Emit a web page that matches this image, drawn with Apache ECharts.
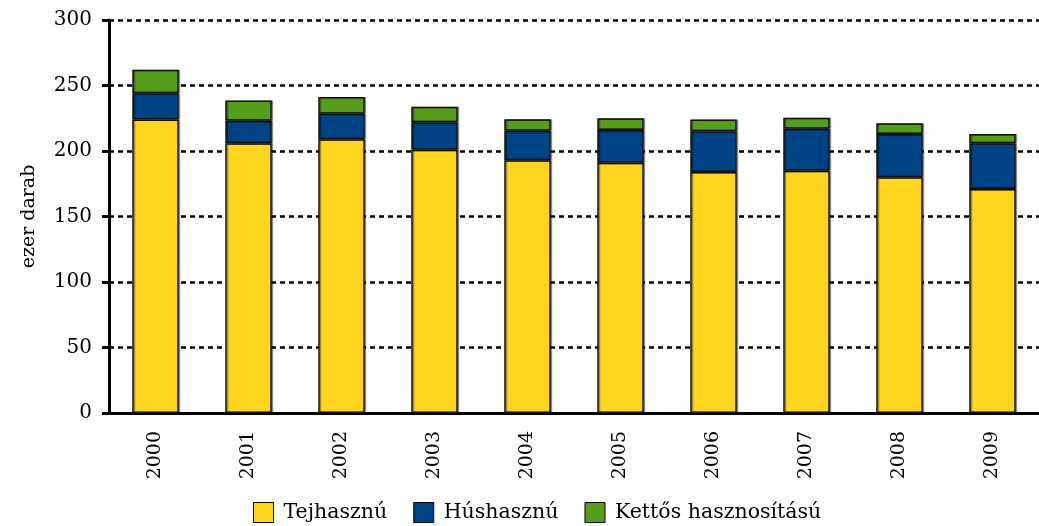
<!DOCTYPE html>
<html>
<head>
<meta charset="utf-8">
<script src="https://cdn.jsdelivr.net/npm/echarts@6/dist/echarts.min.js"></script>
<style>
  html, body { margin: 0; padding: 0; background: #fff; }
  #chart { width: 1039px; height: 526px; }
</style>
</head>
<body>
<div id="chart"></div>
<script>
const years = ["2000", "2001", "2002", "2003", "2004", "2005", "2006", "2007", "2008", "2009"];
// ezer darab, values
const tejhasznu = [224, 206, 209, 201, 193, 191, 184, 185, 180, 171];
const hushasznu = [20, 17, 19.5, 21, 22.5, 25, 31, 32, 33, 35];
const kettos = [18, 15.5, 12.7, 11.7, 8.7, 9, 9, 8.4, 8.2, 7];
const yTicks = [0, 50, 100, 150, 200, 250, 300];

const font = "'DejaVu Serif', 'Liberation Serif', serif";

const chart = echarts.init(document.getElementById("chart"));

const barSeries = (name, data, color) => ({
  name: name,
  type: "bar",
  stack: "total",
  data: data,
  barWidth: "50%",
  itemStyle: {
    color: color,
    borderColor: "#111",
    borderWidth: 1.5,
    shadowColor: "rgba(0,0,0,0.35)",
    shadowOffsetX: 1.5,
    shadowOffsetY: 0
  }
});

chart.setOption({
  animation: false,
  textStyle: { fontFamily: font },
  grid: { left: 109, right: 0, top: 20, bottom: 113 },
  legend: {
    top: 497,
    left: 248,
    icon: "rect",
    itemWidth: 20,
    itemHeight: 20,
    itemGap: 26,
    textStyle: {
      fontFamily: font,
      fontSize: 20.5,
      color: "#000",
      padding: [0, 0, 0, 5]
    },
    itemStyle: { borderColor: "#000", borderWidth: 1 },
    data: ["Tejhasznú", "Húshasznú", "Kettős hasznosítású"]
  },
  xAxis: {
    type: "category",
    data: years,
    axisLine: { lineStyle: { color: "#000", width: 3 } },
    axisTick: { length: 10, lineStyle: { color: "#000", width: 3 } },
    axisLabel: {
      rotate: 90,
      margin: 18,
      fontFamily: font,
      fontSize: 19,
      color: "#000"
    }
  },
  yAxis: {
    type: "value",
    min: 0,
    max: 300,
    interval: 50,
    name: "ezer darab",
    nameLocation: "middle",
    nameGap: 70,
    nameRotate: 90,
    nameTextStyle: { fontFamily: font, fontSize: 19, color: "#000" },
    axisLine: { show: true, lineStyle: { color: "#000", width: 3 } },
    axisTick: { show: true, length: 7, lineStyle: { color: "#000", width: 3 } },
    axisLabel: {
      margin: 17,
      fontFamily: font,
      fontSize: 20,
      color: "#000",
      formatter: v => (yTicks.includes(v) ? String(v) : "")
    },
    splitLine: {
      show: true,
      lineStyle: { color: "#000", width: 2.5, type: [5, 4] }
    }
  },
  series: [
    barSeries("Tejhasznú", tejhasznu, "#FFD520"),
    barSeries("Húshasznú", hushasznu, "#004385"),
    barSeries("Kettős hasznosítású", kettos, "#579D1C")
  ]
});
</script>
</body>
</html>
